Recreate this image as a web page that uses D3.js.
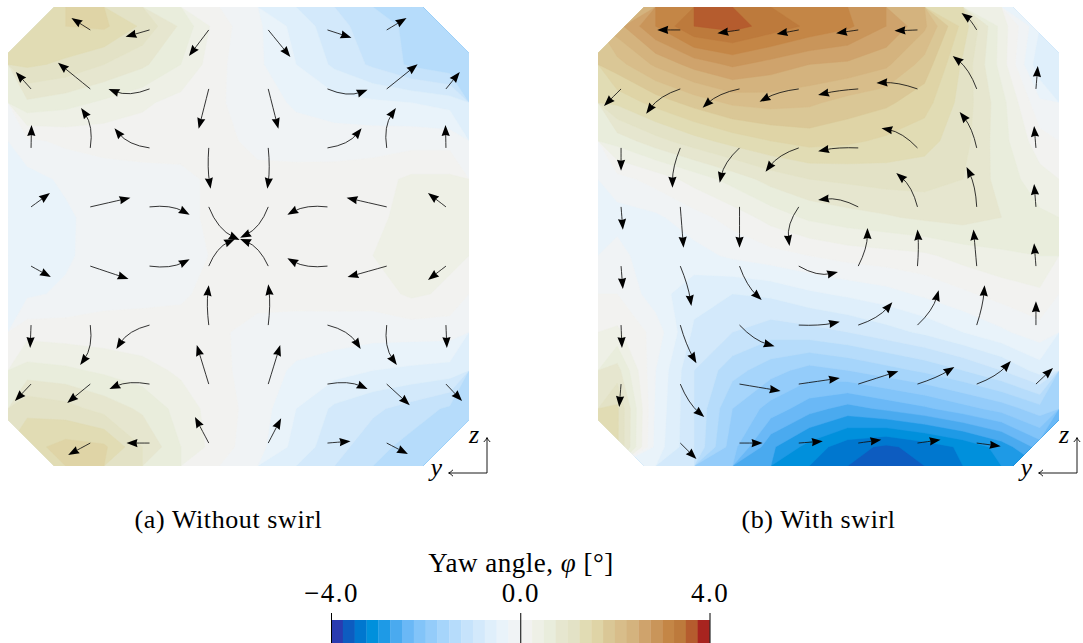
<!DOCTYPE html>
<html>
<head>
<meta charset="utf-8">
<script src="https://cdn.jsdelivr.net/npm/d3@7"></script>
<style>
  html, body { margin: 0; padding: 0; background: #fff; }
  svg { display: block; }
  text { font-family: "Liberation Serif", "DejaVu Serif", serif; fill: #000; }
</style>
</head>
<body>
<svg id="fig" width="1083" height="643"></svg>
<script>
// ---------------------------------------------------------------------------
// Yaw angle φ [deg] on a 12 × 12 sampling grid of the duct cross-section.
// Rows run from the top wall (z = +1) to the bottom wall (z = −1),
// columns from y = +1 (left) to y = −1 (right).
// ---------------------------------------------------------------------------
const yawNoSwirl = [
  [ 1.30,  1.50,  1.55,  1.20,  0.70,  0.10, -0.20, -0.60, -0.90, -1.15, -1.30, -1.40],
  [ 1.30,  1.20,  1.00,  0.80,  0.50,  0.05, -0.20, -0.50, -0.80, -1.05, -1.30, -1.45],
  [ 0.70,  0.60,  0.45,  0.30,  0.15,  0.02, -0.10, -0.30, -0.40, -0.45, -0.50, -0.60],
  [-0.05,  0.05,  0.08,  0.10,  0.08,  0.05, -0.05, -0.10, -0.12, -0.12, -0.10, -0.10],
  [-0.35, -0.20, -0.10, -0.08, -0.05,  0.05,  0.05,  0.08,  0.10,  0.15,  0.30,  0.30],
  [-0.30, -0.30, -0.12, -0.08, -0.05,  0.05,  0.08,  0.10,  0.10,  0.18,  0.35,  0.30],
  [-0.30, -0.30, -0.10, -0.08, -0.05,  0.02,  0.05,  0.10,  0.12,  0.25,  0.35,  0.30],
  [-0.30, -0.20, -0.08, -0.05, -0.02,  0.05,  0.05,  0.08,  0.10,  0.12,  0.30,  0.20],
  [ 0.15,  0.12,  0.10,  0.08,  0.05,  0.02, -0.05, -0.10, -0.12, -0.15, -0.15, -0.15],
  [ 0.60,  0.55,  0.45,  0.35,  0.20,  0.05, -0.10, -0.30, -0.40, -0.50, -0.55, -0.60],
  [ 1.20,  1.10,  0.90,  0.70,  0.40,  0.10, -0.10, -0.50, -0.80, -0.95, -1.10, -1.30],
  [ 1.40,  1.60,  1.55,  1.00,  0.50,  0.10, -0.15, -0.60, -0.90, -1.15, -1.35, -1.40]
];

const yawSwirl = [
  [ 2.40,  3.00,  3.50,  3.60,  3.40,  3.20,  3.05,  2.75,  2.30,  1.40,  0.40, -0.50],
  [ 1.90,  2.30,  2.60,  2.80,  2.65,  2.50,  2.45,  2.30,  1.90,  1.20,  0.40, -0.70],
  [ 1.30,  1.60,  1.85,  2.05,  2.10,  2.05,  1.90,  1.80,  1.60,  1.15,  0.60, -0.20],
  [ 0.60,  0.90,  1.15,  1.35,  1.50,  1.60,  1.55,  1.45,  1.35,  1.10,  0.60,  0.10],
  [-0.10,  0.10,  0.35,  0.60,  0.85,  1.00,  1.05,  1.10,  1.10,  1.00,  0.65,  0.35],
  [-0.35, -0.30, -0.10,  0.10,  0.35,  0.55,  0.65,  0.72,  0.80,  0.85,  0.75,  0.55],
  [-0.15, -0.45, -0.35, -0.20, -0.10,  0.00,  0.10,  0.15,  0.20,  0.35,  0.45,  0.50],
  [ 0.00, -0.40, -0.65, -0.75, -0.70, -0.55, -0.45, -0.35, -0.20, -0.05,  0.10,  0.20],
  [ 0.30, -0.10, -0.80, -1.00, -1.15, -1.10, -1.00, -0.85, -0.70, -0.50, -0.30, -0.10],
  [ 0.85, -0.25, -1.00, -1.40, -1.65, -1.85, -1.75, -1.60, -1.45, -1.25, -1.00, -0.65],
  [ 1.30, -0.30, -1.00, -1.75, -2.10, -2.40, -2.60, -2.45, -2.30, -2.10, -1.90, -1.60],
  [ 1.30, -0.35, -1.00, -1.90, -2.70, -3.10, -3.40, -3.55, -3.40, -3.20, -2.90, -2.40]
];

// Tracer seed positions (normalised y, z) for the secondary-flow streaks
const tracerY = [0.9, 0.643, 0.386, 0.129, -0.129, -0.386, -0.643, -0.9];
const tracerZ = [0.9, 0.643, 0.386, 0.129, -0.129, -0.386, -0.643, -0.9];

// In-plane velocity components (v along +y, w along +z) at each seed, % of bulk;
// null where the seed lies outside the chamfered section.
const flowNoSwirlV = [
  [null,  4.1,  5.2,  4.3, -4.8, -5.2, -4.3, null],
  [ 3.3,  7.0,  8.9,  2.2, -2.2, -8.7, -6.7, -3.0],
  [-0.1,  2.0,  7.6, -0.4,  0.2, -7.4, -2.0,  0.1],
  [-4.1, -8.7, -8.7, -6.7,  6.1,  8.7,  8.7,  3.9],
  [-4.3, -8.3, -8.7, -5.7,  6.1,  8.7,  8.5,  3.9],
  [ 0.2,  2.2,  7.2,  0.0,  0.0, -7.2, -2.2, -0.2],
  [ 3.5,  5.0,  8.7,  2.6, -2.6, -8.7, -5.0, -3.5],
  [null,  4.8,  5.0,  3.0, -2.8, -5.0, -4.6, null]
];
const flowNoSwirlW = [
  [null,  2.6, -1.5, -5.7, -5.9, -1.7,  2.6, null],
  [ 3.7,  5.7,  0.0, -8.7, -8.7, -0.2,  5.4,  3.7],
  [ 5.0,  8.7,  4.3, -8.9, -8.9,  4.3,  8.7,  5.0],
  [ 3.0,  2.0, -1.7, -7.2, -6.7, -1.7,  2.0,  3.0],
  [-2.4, -2.8,  1.5,  5.9,  5.9,  1.7, -2.4, -3.0],
  [-5.0, -8.7, -5.2,  8.7,  8.9, -5.2, -8.7, -5.0],
  [-3.7, -4.1, -1.1,  8.5,  8.5, -1.1, -4.6, -3.7],
  [null, -2.6,  0.0,  5.7,  5.4,  0.4, -2.4, null]
];
// Streak curvature (signed sagitta / chord, positive = bends to the right of travel)
const flowNoSwirlBend = [
  [0,  0,     0,     0,     0,     0,     0,    0],
  [0,  0,    -0.1,   0,     0,     0.1,   0,    0],
  [0,  0.1,  -0.1,   0.03, -0.03,  0.1,  -0.1,  0],
  [0,  0,    -0.08,  0.1,  -0.1,   0.08,  0,    0],
  [0,  0,     0.08, -0.1,   0.1,  -0.08,  0,    0],
  [0, -0.1,   0.1,  -0.03,  0.03, -0.1,   0.1,  0],
  [0,  0,     0.08,  0,     0,    -0.08,  0,    0],
  [0,  0,     0,     0,     0,     0,     0,    0]
];

const flowSwirlV = [
  [null,  5.0,  4.8,  4.8,  4.8,  5.0,  3.3, null],
  [ 3.7,  7.4,  8.0,  8.5,  8.7,  8.9,  5.2, -0.4],
  [ 0.0,  1.7,  4.3,  7.2,  8.7,  7.8,  3.7,  0.4],
  [-0.4, -0.7,  0.0,  2.0,  8.7,  4.6,  2.2,  0.4],
  [-0.4, -2.4, -4.8, -8.5, -2.0,  0.0,  0.7,  0.4],
  [-0.2, -3.5, -7.6, -8.9, -7.4, -4.6, -1.7,  0.0],
  [ 0.4, -5.2, -8.9, -8.9, -8.7, -8.0, -7.4, -3.7],
  [null, -3.5, -5.0, -5.2, -5.0, -5.0, -5.2, null]
];
const flowSwirlW = [
  [null,  0.0, -0.7, -0.9, -0.7, -0.2,  3.7, null],
  [-3.7, -5.4, -4.1, -2.8, -1.3,  1.3,  7.2,  5.0],
  [-5.0, -8.7, -7.6, -5.2, -0.7,  4.3,  7.8,  4.8],
  [-5.0, -8.9, -8.9, -8.5,  1.5,  7.4,  8.7,  5.0],
  [-5.0, -8.7, -7.4, -1.3,  8.3,  8.0,  8.0,  5.0],
  [-5.0, -8.3, -4.6,  0.7,  5.0,  7.6,  8.7,  5.2],
  [-5.0, -7.2, -1.5,  1.3,  2.8,  3.7,  5.0,  3.5],
  [null, -3.5,  0.0,  0.4,  0.7,  0.7, -0.7, null]
];
const flowSwirlBend = [
  [0,  0,     0,     0,     0,     0,     0.05, 0],
  [0,  0.08,  0.07,  0.05,  0.02,  0.05,  0.07, 0],
  [0,  0.05,  0.08,  0.08,  0.03,  0.08,  0.06, 0],
  [0,  0,     0,     0.1,   0.08,  0.08,  0.05, 0],
  [0, -0.03,  0.06,  0.1,   0.06,  0.02,  0,    0],
  [0,  0.03,  0.07,  0.03,  0.07,  0.07,  0.03, 0],
  [0,  0.06,  0,     0,     0,     0.03,  0.06, 0],
  [0,  0,     0,     0,     0,     0,     0,    0]
];

// Colour map: 32 bands of 0.25° between −4° and +4°
const bandColors = [
  "#2a3bb0", "#0d5cc0", "#0077cf", "#0090dc", "#1e9ae6", "#4aaaef", "#6ab8f6", "#82c4f9",
  "#94ccfa", "#a6d5fb", "#b6dcfb", "#c6e3fb", "#d3e9fb", "#dfeffb", "#e9f3fa", "#f0f3f5",
  "#f2f2f0", "#eef0e6", "#e9eddc", "#e6e6cf", "#e3e2c6", "#e1dcb4", "#dfd4a6", "#dac796",
  "#d8bd8a", "#d4b37e", "#cfa36c", "#c9955a", "#c48646", "#bd7a3c", "#b55c2e", "#a8241f"
];
const yawDomain = [-4, 4];
const yawStep = 0.25;
const colorbarTicks = [-4, 0, 4];

const captions = ["(a) Without swirl", "(b) With swirl"];
const colorbarTitle = "Yaw angle, ";

// ---------------------------------------------------------------------------
const svg = d3.select("#fig");
const color = d3.scaleQuantize().domain(yawDomain).range(bandColors);
const thresholds = d3.range(yawDomain[0], yawDomain[1], yawStep);
const vecScale = 0.02;      // normalised length per % of bulk velocity
const chamfer = 0.2;        // corner chamfer in normalised units

const panels = [
  { left: 8,   top: 7, width: 461, height: 459, field: yawNoSwirl,
    v: flowNoSwirlV, w: flowNoSwirlW, bend: flowNoSwirlBend, caption: captions[0] },
  { left: 598, top: 7, width: 461, height: 459, field: yawSwirl,
    v: flowSwirlV, w: flowSwirlW, bend: flowSwirlBend, caption: captions[1] }
];

const defs = svg.append("defs");

panels.forEach((p, pi) => {
  const xs = d3.scaleLinear().domain([1, -1]).range([p.left, p.left + p.width]);
  const zs = d3.scaleLinear().domain([1, -1]).range([p.top, p.top + p.height]);
  const g = svg.append("g");

  // chamfered (octagonal) duct section
  const c = chamfer;
  const outline = [[1, 1 - c], [1 - c, 1], [-1 + c, 1], [-1, 1 - c],
                   [-1, -1 + c], [-1 + c, -1], [1 - c, -1], [1, -1 + c]];
  const clipId = "section" + pi;
  defs.append("clipPath").attr("id", clipId)
    .append("path")
    .attr("d", d3.line().x(d => xs(d[0])).y(d => zs(d[1]))(outline) + "Z");

  // filled contour bands
  const ny = p.field[0].length, nz = p.field.length;
  const values = p.field.flat();
  const contours = d3.contours().size([ny, nz]).thresholds(thresholds)(values);
  const proj = d3.geoTransform({
    point: function (gx, gz) {
      this.stream.point(xs(1 - 2 * gx / ny), zs(1 - 2 * gz / nz));
    }
  });
  const path = d3.geoPath(proj);
  g.append("g").attr("clip-path", `url(#${clipId})`)
    .selectAll("path").data(contours).join("path")
    .attr("d", path)
    .attr("fill", d => color(d.value + yawStep / 2))
    .attr("stroke", d => color(d.value + yawStep / 2))
    .attr("stroke-width", 0.4);

  // secondary-flow streaks with arrow heads
  const arrows = [];
  p.v.forEach((row, r) => row.forEach((v, k) => {
    if (v === null) return;
    const w = p.w[r][k];
    const x0 = xs(tracerY[k]), y0 = zs(tracerZ[r]);
    const x2 = xs(tracerY[k] + v * vecScale), y2 = zs(tracerZ[r] + w * vecScale);
    const dx = x2 - x0, dy = y2 - y0, len = Math.hypot(dx, dy);
    const nx = -dy / len, ny2 = dx / len;
    const b = p.bend[r][k] * 2 * len;
    const x1 = (x0 + x2) / 2 + nx * b, y1 = (y0 + y2) / 2 + ny2 * b;
    arrows.push({ x0, y0, x1, y1, x2, y2 });
  }));
  const headLen = 11, headHalf = 4.1;
  const ag = g.append("g");
  ag.selectAll("path.streak").data(arrows).join("path")
    .attr("class", "streak")
    .attr("d", a => {
      const tx = a.x2 - a.x1, ty = a.y2 - a.y1, tl = Math.hypot(tx, ty);
      const ex = a.x2 - tx / tl * headLen * 0.6, ey = a.y2 - ty / tl * headLen * 0.6;
      const pth = d3.path();
      pth.moveTo(a.x0, a.y0);
      pth.quadraticCurveTo(a.x1, a.y1, ex, ey);
      return pth.toString();
    })
    .attr("fill", "none").attr("stroke", "#111").attr("stroke-width", 0.85);
  ag.selectAll("path.head").data(arrows).join("path")
    .attr("class", "head")
    .attr("d", a => {
      const tx = a.x2 - a.x1, ty = a.y2 - a.y1, tl = Math.hypot(tx, ty);
      const ux = tx / tl, uy = ty / tl;
      const bx = a.x2 - ux * headLen, by = a.y2 - uy * headLen;
      const pth = d3.path();
      pth.moveTo(a.x2, a.y2);
      pth.lineTo(bx - uy * headHalf, by + ux * headHalf);
      pth.lineTo(bx + ux * 1.0, by + uy * 1.0);
      pth.lineTo(bx + uy * headHalf, by - ux * headHalf);
      pth.closePath();
      return pth.toString();
    })
    .attr("fill", "#000");

  // coordinate triad (y to the left, z upward)
  const ox = p.left + p.width + 18, oy = p.top + p.height + 7;
  const tri = g.append("g").attr("fill", "none").attr("stroke", "#000").attr("stroke-width", 0.9);
  tri.append("path").attr("d", `M${ox},${oy}V${oy - 35}M${ox},${oy}H${ox - 38}`);
  tri.append("path").attr("d", `M${ox - 3.2},${oy - 31}Q${ox - 0.8},${oy - 33.2} ${ox},${oy - 35.5}Q${ox + 0.8},${oy - 33.2} ${ox + 3.2},${oy - 31}`);
  tri.append("path").attr("d", `M${ox - 34},${oy - 3.2}Q${ox - 36.2},${oy - 0.8} ${ox - 38.5},${oy}Q${ox - 36.2},${oy + 0.8} ${ox - 34},${oy + 3.2}`);
  g.append("text").attr("x", ox - 8).attr("y", oy - 30).attr("text-anchor", "end")
    .attr("font-style", "italic").attr("font-size", 26).text("z");
  g.append("text").attr("x", ox - 45).attr("y", oy + 3).attr("text-anchor", "end")
    .attr("font-style", "italic").attr("font-size", 26).text("y");

  // sub-caption
  svg.append("text")
    .attr("x", p.left + p.width / 2 - 10).attr("y", 528)
    .attr("text-anchor", "middle").attr("font-size", 26)
    .attr("letter-spacing", 0.6)
    .text(p.caption);
});

// ---------------------------------------------------------------------------
// Colour bar
const cb = { left: 331, right: 709.5, top: 620, bottom: 650 };
const xb = d3.scaleLinear().domain(yawDomain).range([cb.left, cb.right]);
const cbg = svg.append("g");
cbg.selectAll("rect").data(thresholds).join("rect")
  .attr("x", d => xb(d)).attr("y", cb.top)
  .attr("width", d => xb(d + yawStep) - xb(d) + 0.3)
  .attr("height", cb.bottom - cb.top)
  .attr("fill", d => color(d + yawStep / 2));

const axis = d3.axisTop(xb).tickValues(colorbarTicks)
  .tickFormat(d3.format(".1f")).tickSize(37).tickPadding(11);
const ax = cbg.append("g").attr("transform", `translate(0,${cb.bottom})`).call(axis);
ax.select(".domain").remove();
ax.selectAll(".tick line").attr("stroke", "#000").attr("stroke-width", 1);
ax.selectAll(".tick text")
  .attr("font-family", '"Liberation Serif", "DejaVu Serif", serif')
  .attr("font-size", 27).attr("letter-spacing", 1.5).attr("fill", "#000");

const title = svg.append("text").attr("x", 521).attr("y", 572)
  .attr("text-anchor", "middle").attr("font-size", 27).attr("letter-spacing", 0.5);
title.append("tspan").text(colorbarTitle);
title.append("tspan").attr("font-style", "italic").text("φ");
title.append("tspan").text(" [°]");
</script>
</body>
</html>
